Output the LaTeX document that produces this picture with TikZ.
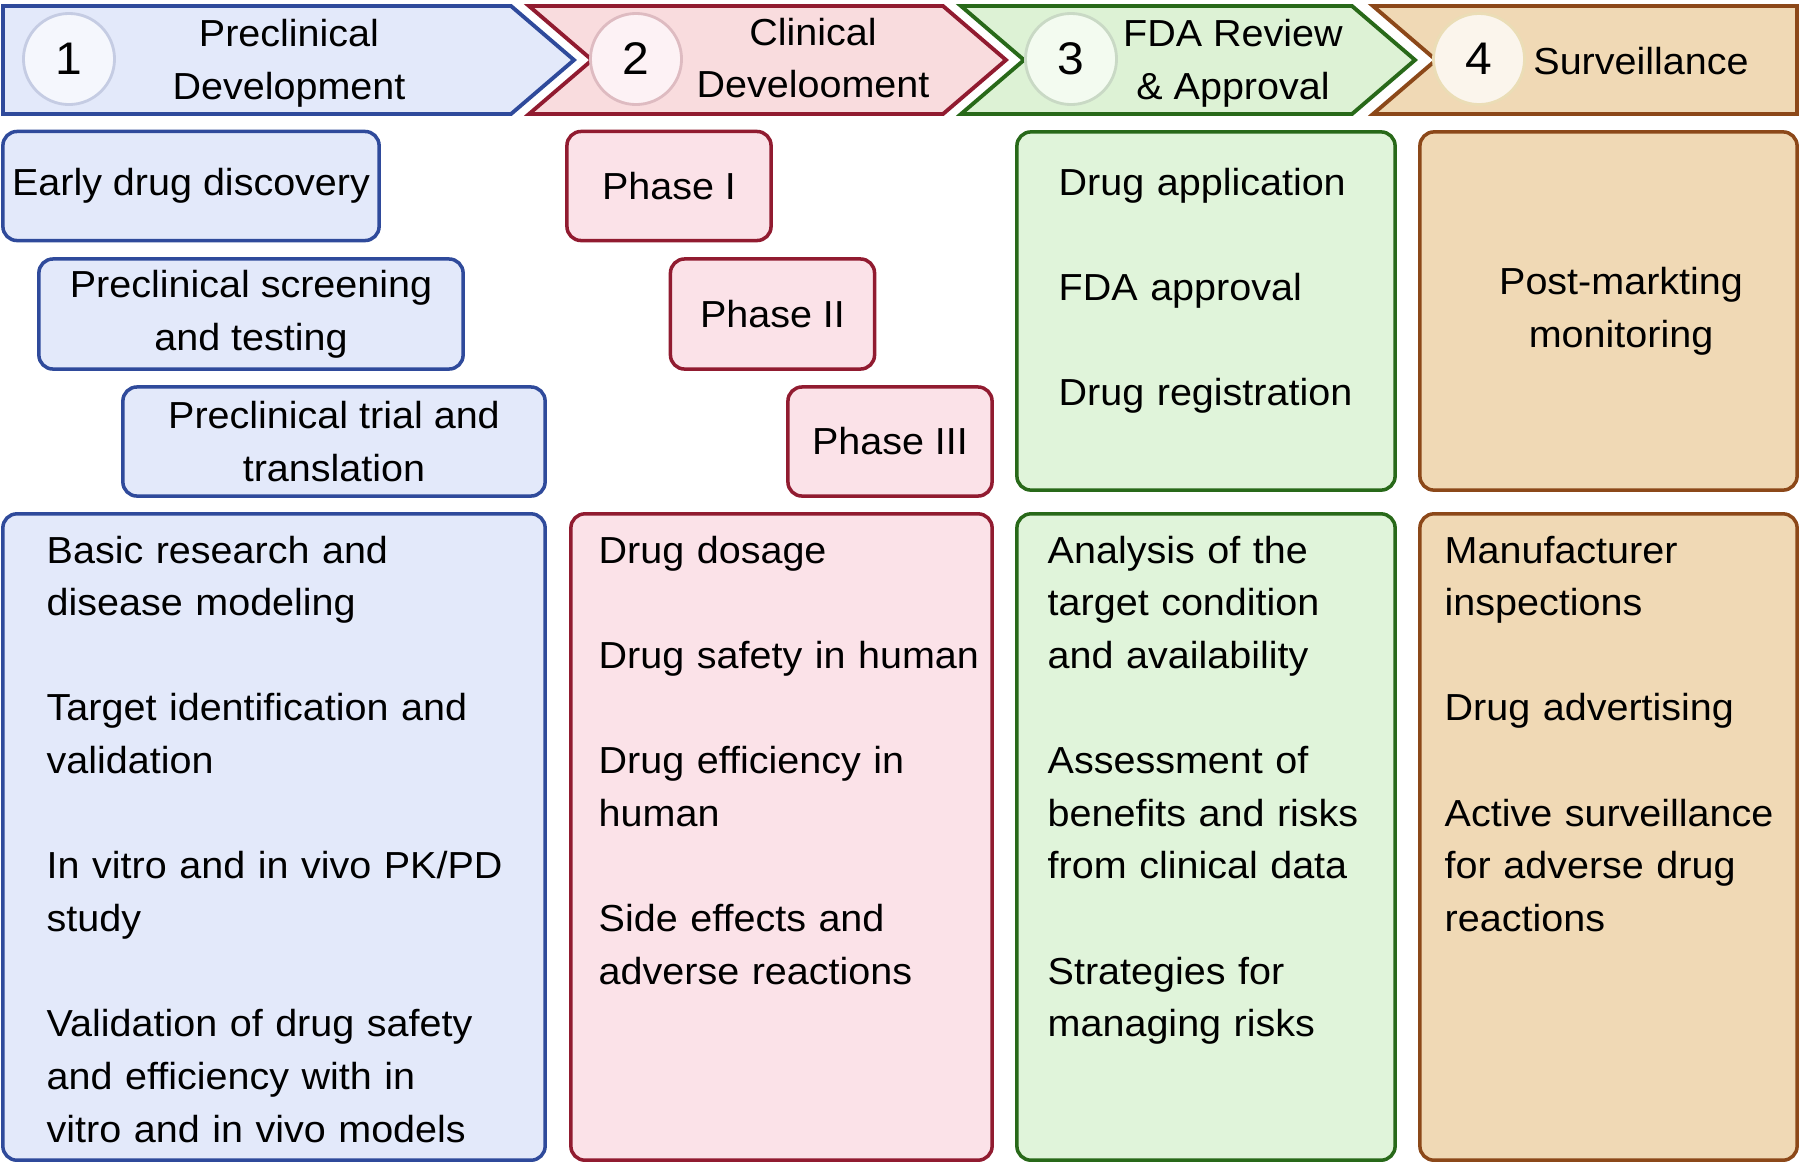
\documentclass[tikz,border=0pt]{standalone}
\usepackage{fontspec}
\setmainfont{Liberation Sans}[FakeStretch=1.05]
\usepackage{tikz}
\definecolor{preblue}{RGB}{47,74,155}
\definecolor{prefill}{RGB}{227,233,250}
\definecolor{clinred}{RGB}{145,27,48}
\definecolor{clinfill}{RGB}{251,226,232}
\definecolor{clinhead}{RGB}{249,220,222}
\definecolor{fdagreen}{RGB}{40,105,25}
\definecolor{fdafill}{RGB}{224,244,218}
\definecolor{fdahead}{RGB}{221,242,213}
\definecolor{survbrown}{RGB}{140,72,25}
\definecolor{survfill}{RGB}{240,217,181}
\definecolor{survring}{RGB}{235,221,182}
\newcommand{\stagefont}{\fontsize{10.7}{14.97}\selectfont}
\newcommand{\digitfont}{\fontsize{13}{15}\selectfont}
\tikzset{
  phase/.style={draw, line width=1pt, rounded corners=4pt, inner sep=2pt, align=center},
  bluebox/.style={phase, draw=preblue, fill=prefill},
  redbox/.style={phase, draw=clinred, fill=clinfill},
  greenbox/.style={phase, draw=fdagreen, fill=fdafill},
  brownbox/.style={phase, draw=survbrown, fill=survfill},
  digit/.style={circle, line width=0.8pt, minimum size=0.91cm, inner sep=0pt, font=\digitfont},
  items/.style={align=left, anchor=base west, inner sep=0pt}
}

\begin{document}
\begin{tikzpicture}[x=0.01cm, y=-0.01cm, font=\stagefont]
\path [fill=white] (0,0) rectangle (1800,1166);

\draw [preblue, fill=prefill, line width=1.1pt] (3,6)--(511,6)--(574,60)--(511,114)--(3,114)--cycle;
\draw [clinred, fill=clinhead, line width=1.1pt] (529,6)--(943,6)--(1006,60)--(943,114)--(529,114)--(592,60)--cycle;
\draw [fdagreen, fill=fdahead, line width=1.1pt] (961,6)--(1352,6)--(1415,60)--(1352,114)--(961,114)--(1024,60)--cycle;
\draw [survbrown, fill=survfill, line width=1.1pt] (1373,6)--(1797,6)--(1797,114)--(1373,114)--(1436,60)--cycle;

\node [digit, draw=preblue!28!white, fill=prefill!35!white] (n1) at (69,59) {1};
\node [digit, draw=clinred!30!white, fill=clinfill!45!white] (n2) at (636,59) {2};
\node [digit, draw=fdagreen!25!white, fill=fdafill!40!white] (n3) at (1071,59) {3};
\node [digit, draw=survring, fill=survfill!25!white] (n4) at (1479,59) {4};

\node [align=center] (t1) at (289,63) {Preclinical\\Development};
\node [align=center] (t2) at (813,58) {Clinical\\Develooment};
\node [align=center] (t3) at (1233,63) {FDA Review\\\& Approval};
\node (t4) at (1641,61) {Surveillance};

\node [bluebox, minimum width=3.76cm, minimum height=1.09cm] (early) at (191,186) {Early drug discovery};
\node [bluebox, minimum width=4.24cm, minimum height=1.10cm] (screen) at (251,314) {Preclinical screening\\and testing};
\node [bluebox, minimum width=4.22cm, minimum height=1.09cm] (trial) at (334,441.5) {Preclinical trial and\\translation};

\node [redbox, minimum width=2.04cm, minimum height=1.09cm] (ph1) at (669,186) {Phase I};
\node [redbox, minimum width=2.04cm, minimum height=1.10cm] (ph2) at (772.5,314) {Phase II};
\node [redbox, minimum width=2.04cm, minimum height=1.09cm] (ph3) at (890,441.5) {Phase III};

\node [greenbox, minimum width=3.78cm, minimum height=3.58cm] (fdatop) at (1206,311) {};
\node [items, text width=3.2cm] (fdasteps) at (1058,195) {Drug application\\[0.526cm]FDA approval\\[0.526cm]Drug registration};
\node [brownbox, minimum width=3.77cm, minimum height=3.58cm] (survtop) at (1608.5,311) {};
\node [align=center] (postmark) at (1621,311) {Post-markting\\monitoring};

\node [bluebox, minimum width=5.42cm, minimum height=6.46cm] (prebig) at (274,837) {};
\node [redbox, minimum width=4.21cm, minimum height=6.46cm] (clinbig) at (781.5,837) {};
\node [greenbox, minimum width=3.78cm, minimum height=6.46cm] (fdabig) at (1206,837) {};
\node [brownbox, minimum width=3.77cm, minimum height=6.46cm] (survbig) at (1608.5,837) {};

\node [items, text width=4.8cm] (prelist) at (46,563) {Basic research and\\disease modeling\\[0.526cm]Target identification and\\validation\\[0.526cm]In vitro and in vivo PK/PD\\study\\[0.526cm]Validation of drug safety\\and efficiency with in\\vitro and in vivo models};
\node [items, text width=3.9cm] (clinlist) at (598,563) {Drug dosage\\[0.526cm]Drug safety in human\\[0.526cm]Drug efficiency in\\human\\[0.526cm]Side effects and\\adverse reactions};
\node [items, text width=3.4cm] (fdalist) at (1047,563) {Analysis of the\\target condition\\and availability\\[0.526cm]Assessment of\\benefits and risks\\from clinical data\\[0.526cm]Strategies for\\managing risks};
\node [items, text width=3.45cm] (survlist) at (1444,563) {Manufacturer\\inspections\\[0.526cm]Drug advertising\\[0.526cm]Active surveillance\\for adverse drug\\reactions};
\end{tikzpicture}
\end{document}
